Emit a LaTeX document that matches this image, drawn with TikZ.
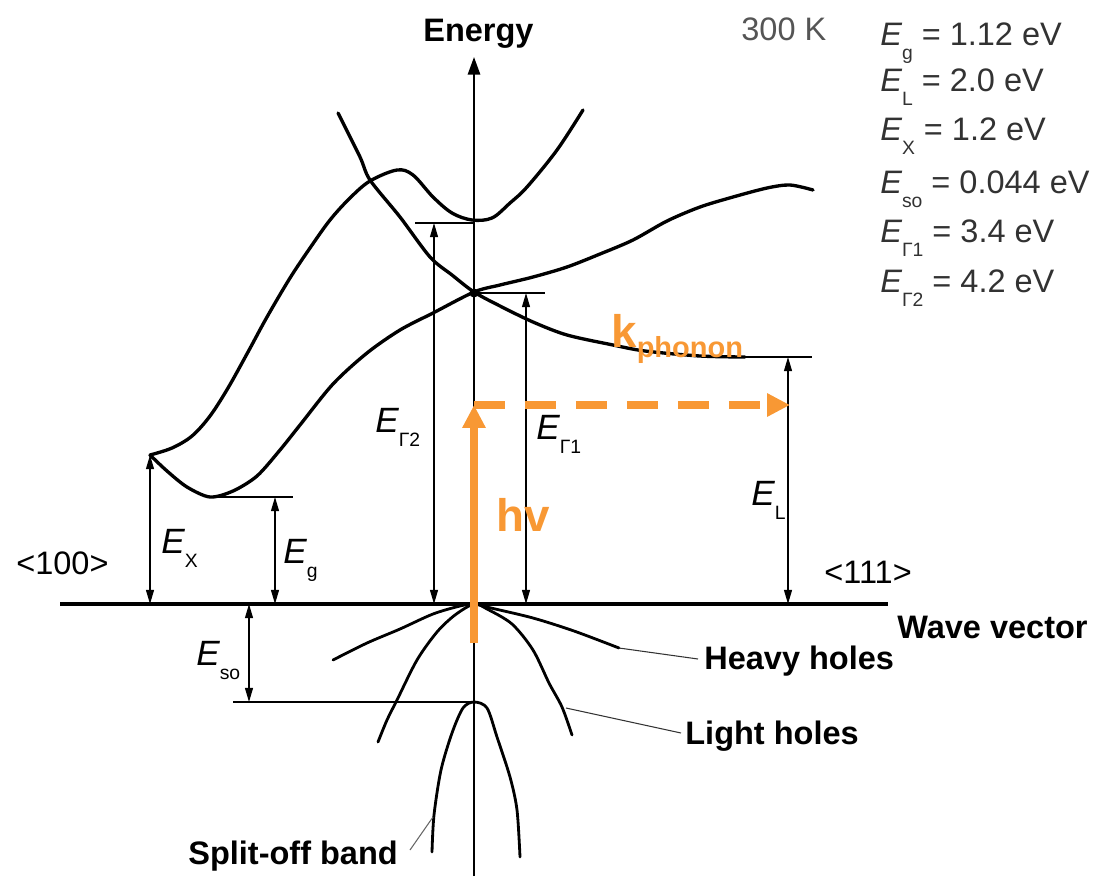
\documentclass[tikz,border=0pt]{standalone}
\usepackage{fontspec}
\setmainfont{Liberation Sans}
\usetikzlibrary{arrows.meta}
\definecolor{orng}{RGB}{248,152,52}
\definecolor{dgray}{RGB}{50,50,50}
\definecolor{mgray}{RGB}{85,85,85}
\newcommand\EE[1]{{\itshape E}\raisebox{-8pt}{\fontsize{11}{12}\selectfont #1}}
\begin{document}
\begin{tikzpicture}[x=0.02cm,y=-0.02cm,
  band/.style={line width=1.9pt,line join=round,line cap=round},
  vband/.style={line width=1.6pt,line join=round,line cap=round},
  fine/.style={line width=0.75pt},
  leader/.style={line width=0.6pt,black!80},
  dimarrow/.style={line width=0.75pt,{Triangle[length=8pt,width=4.5pt]}-{Triangle[length=8pt,width=4.5pt]}},
  boldlbl/.style={font=\fontsize{18.5}{22}\selectfont\bfseries,inner sep=0pt,anchor=base west},
  reglbl/.style={font=\fontsize{18.5}{22}\selectfont,inner sep=0pt,anchor=base west},
  listlbl/.style={reglbl,text=dgray},
  elbl/.style={font=\fontsize{20}{24}\selectfont,inner sep=0pt,anchor=base west},
  orangearrow/.style={draw=orng,line width=4.5pt,-{Triangle[length=13pt,width=12.5pt]}},
]
\useasboundingbox (0,0) rectangle (1098,876);

% ---------- key coordinates ----------
\coordinate (O) at (474,604);
\coordinate (Etop) at (474,57);
\coordinate (Ebot) at (474,876);
\coordinate (Wl) at (60,604);
\coordinate (Wr) at (888,604);
\coordinate (Xc) at (150,455);
\coordinate (XcB) at (150,604);
\coordinate (Xmin) at (210,497);
\coordinate (EgL) at (293,497);
\coordinate (EgT) at (275,497);
\coordinate (EgB) at (275,604);
\coordinate (G2L) at (415,223);
\coordinate (G2R) at (474,223);
\coordinate (G2T) at (434,223);
\coordinate (G2B) at (434,604);
\coordinate (G1) at (474,293);
\coordinate (G1R) at (545,293);
\coordinate (G1T) at (526,293);
\coordinate (G1B) at (526,604);
\coordinate (Lmin) at (740,357);
\coordinate (LR) at (812,357);
\coordinate (LT) at (788,357);
\coordinate (LB) at (788,604);
\coordinate (SOL) at (233,702);
\coordinate (SOR) at (474,702);
\coordinate (SOT) at (249,604);
\coordinate (SOB) at (249,702);
\coordinate (hvS) at (474,643);
\coordinate (hvT) at (474,405);
\coordinate (kEnd) at (790,405);
\coordinate (hhA) at (619,648);
\coordinate (hhB) at (698,659);
\coordinate (lhA) at (566,708);
\coordinate (lhB) at (681,733);
\coordinate (soA) at (433,817);
\coordinate (soB) at (410,850);

% ---------- axes ----------
\draw[line width=1.1pt,-{Triangle[length=10pt,width=7pt]}] (Ebot) -- (Etop);
\draw[line width=2.4pt] (Wl) -- (Wr);

% ---------- conduction bands ----------
% band from top-left through Gamma down to L
\draw[band] plot[smooth,tension=0.5] coordinates {(338,113) (360,157) (370,180) (400,217) (430,257) (452,275) (474,292) (500,306) (533,322) (567,335) (613,345) (645,351) (700,356) (745,357)};
% hump band: X cusp -> Gamma2 min -> up
\draw[band] plot[smooth,tension=0.55] coordinates {(150,455) (172,448) (192,436) (210,416) (228,388) (248,352) (267,317) (290,278) (310,248) (330,220) (350,198) (370,181) (397,170) (413,175) (433,197) (452,213) (472,220) (492,218) (510,203) (527,187) (557,150) (583,110)};
% lower band: X cusp -> X min -> Gamma -> L side
\draw[band] plot[smooth,tension=0.5] coordinates {(150,455) (167,471) (187,487) (210,497) (233,491) (257,476) (280,450) (300,425) (333,384) (367,353) (400,330) (433,313) (474,292) (500,285) (533,277) (567,267) (600,254) (633,240) (667,221) (700,207) (733,197) (767,188) (790,185) (813,190)};
\fill (G1) circle[radius=2.6pt];

% ---------- valence bands ----------
\draw[vband] plot[smooth,tension=0.5] coordinates {(333,660) (367,643) (400,629) (433,614) (460,606) (474,604) (491,608) (533,618) (574,631) (619,648)};
\draw[vband] plot[smooth,tension=0.5] coordinates {(378,742) (387,720) (397,700) (417,660) (437,632) (455,615) (474,604) (487,609) (512,624) (533,650) (549,683) (562,707) (572,735)};
\draw[vband] plot[smooth,tension=0.5] coordinates {(432,852) (434,815) (441,770) (452,733) (463,708) (474,702) (487,708) (497,737) (510,777) (517,810) (520,857)};

% ---------- level lines ----------
\draw[fine] (Xmin) -- (EgL);
\draw[fine] (G2L) -- (G2R);
\draw[fine] (G1) -- (G1R);
\draw[fine] (Lmin) -- (LR);
\draw[fine] (SOL) -- (SOR);

% ---------- dimension arrows ----------
\draw[dimarrow] (Xc) -- (XcB);
\draw[dimarrow] (EgT) -- (EgB);
\draw[dimarrow] (G2T) -- (G2B);
\draw[dimarrow] (G1T) -- (G1B);
\draw[dimarrow] (LT) -- (LB);
\draw[dimarrow] (SOT) -- (SOB);

% ---------- leaders ----------
\draw[leader] (hhA) -- (hhB);
\draw[leader] (lhA) -- (lhB);
\draw[leader,black!60] (soA) -- (soB);

% ---------- photon and phonon ----------
\draw[orangearrow] (hvS) -- (hvT);
\draw[orangearrow,dash pattern=on 17.5pt off 11.5pt] (hvT) -- (kEnd);

% ---------- labels ----------
\node[boldlbl] (energy) at (423,41) {Energy};
\node[reglbl,text=mgray] (temp) at (741,40) {300 K};
\node[listlbl] (l1) at (880,45) {\EE{g} = 1.12 eV};
\node[listlbl] (l2) at (880,91) {\EE{L} = 2.0 eV};
\node[listlbl] (l3) at (880,140) {\EE{X} = 1.2 eV};
\node[listlbl] (l4) at (880,193) {\EE{so} = 0.044 eV};
\node[listlbl] (l5) at (880,242) {\EE{Γ1} = 3.4 eV};
\node[listlbl] (l6) at (880,292) {\EE{Γ2} = 4.2 eV};

\node[reglbl] (d100) at (16,574) {<100>};
\node[reglbl] (d111) at (824,583) {<111>};
\node[boldlbl] (wv) at (897,638) {Wave vector};
\node[boldlbl] (hh) at (704,669) {Heavy holes};
\node[boldlbl] (lh) at (685,744) {Light holes};
\node[boldlbl] (so) at (188,864) {Split-off band};

\node[elbl] (ex) at (161,553) {\EE{X}};
\node[elbl] (eg) at (283,563) {\EE{g}};
\node[elbl] (eso) at (196,665) {\EE{so}};
\node[elbl] (eg2) at (375,432) {\EE{Γ2}};
\node[elbl] (eg1) at (536,439) {\EE{Γ1}};
\node[elbl] (el) at (751,505) {\EE{L}};

\node[inner sep=0pt,anchor=base west,text=orng,font=\fontsize{26}{30}\selectfont\bfseries] (hv) at (496,531) {hv};
\node[inner sep=0pt,anchor=base west,text=orng,font=\fontsize{26}{30}\selectfont\bfseries] (kph) at (611,347) {k\raisebox{-6pt}{\fontsize{16.5}{18}\selectfont phonon}};
\end{tikzpicture}
\end{document}
